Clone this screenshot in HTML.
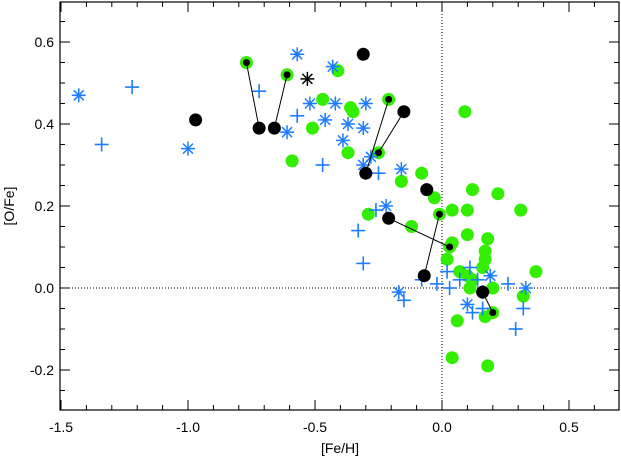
<!DOCTYPE html>
<html><head><meta charset="utf-8"><style>
html,body{margin:0;padding:0;background:#fff;}
svg{display:block;font-family:"Liberation Sans",Arial,sans-serif;}
</style></head><body>
<svg id="chart" width="621" height="458" viewBox="0 0 621 458" xmlns="http://www.w3.org/2000/svg"></svg>
<script>
const xTicks = [-1.5, -1.0, -0.5, 0.0, 0.5];
const xTickLabels = ["-1.5", "-1.0", "-0.5", "0.0", "0.5"];
const yTicks = [-0.2, 0.0, 0.2, 0.4, 0.6];
const yTickLabels = ["-0.2", "0.0", "0.2", "0.4", "0.6"];
const greenX = [-0.41,-0.47,-0.36,-0.35,-0.51,-0.37,-0.59,-0.29,-0.16,-0.08,-0.03,0.09,0.12,0.22,0.31,0.04,0.10,-0.12,0.10,0.18,0.04,0.17,0.17,0.02,0.16,0.07,0.37,0.10,0.12,0.11,0.20,0.32,0.17,0.06,0.04,0.18];
const greenY = [0.53,0.46,0.44,0.43,0.39,0.33,0.31,0.18,0.26,0.28,0.22,0.43,0.24,0.23,0.19,0.19,0.19,0.15,0.13,0.12,0.11,0.09,0.07,0.07,0.05,0.04,0.04,0.03,0.02,0.00,0.00,-0.02,-0.07,-0.08,-0.17,-0.19];
const ringX = [-0.77,-0.61,-0.21,-0.25,-0.01,0.03,0.20];
const ringY = [0.55,0.52,0.46,0.33,0.18,0.10,-0.06];
const blackX = [-0.97,-0.72,-0.66,-0.31,-0.15,-0.30,-0.06,-0.21,-0.07,0.16];
const blackY = [0.41,0.39,0.39,0.57,0.43,0.28,0.24,0.17,0.03,-0.01];
const linkRing = [0,1,2,3,4,5,6];
const linkBlack = [1,2,5,4,8,7,9];
const astX = [-1.43,-1.00,-0.57,-0.43,-0.52,-0.42,-0.30,-0.46,-0.37,-0.31,-0.61,-0.39,-0.31,-0.28,-0.16,-0.22,-0.17,0.19,0.33,0.10];
const astY = [0.47,0.34,0.57,0.54,0.45,0.45,0.45,0.41,0.40,0.39,0.38,0.36,0.30,0.32,0.29,0.20,-0.01,0.03,0.00,-0.04];
const plusX = [-1.22,-1.34,-0.72,-0.57,-0.47,-0.25,-0.26,-0.33,-0.31,-0.15,-0.08,-0.02,0.02,0.03,0.07,0.11,0.14,0.16,0.12,0.16,0.26,0.32,0.29];
const plusY = [0.49,0.35,0.48,0.42,0.30,0.28,0.19,0.14,0.06,-0.03,0.02,0.01,0.04,0.00,0.02,0.05,0.02,-0.01,-0.06,-0.05,0.01,-0.05,-0.10];
const blackAstX = [-0.53];
const blackAstY = [0.51];

const L=60,R=619,T=2,B=410;
const sx = v => 442 + v*254;
const sy = v => 288 - v*410;
const NS="http://www.w3.org/2000/svg";
const svg=document.getElementById('chart');
function mk(tag,attrs,parent){const e=document.createElementNS(NS,tag);for(const k in attrs)e.setAttribute(k,attrs[k]);(parent||svg).appendChild(e);return e;}

const zx=mk('line',{x1:sx(0),x2:sx(0),y1:T,y2:B,stroke:'#000','stroke-width':1,'stroke-dasharray':'1,2'});


const zy=mk('line',{x1:L,x2:R,y1:sy(0),y2:sy(0),stroke:'#000','stroke-width':1,'stroke-dasharray':'1,2'});



const ax=mk('g',{stroke:'#000','stroke-width':1});


for(let i=-15;i<=7;i++){const v=i/10;const x=sx(v);if(x<L||x>R)continue;const maj=(i%5===0);const len=maj?10:5;
mk('line',{x1:x,x2:x,y1:B,y2:B-len},ax);mk('line',{x1:x,x2:x,y1:T,y2:T+len},ax);}
for(let i=-6;i<=14;i++){const v=i*0.05;const y=sy(v);if(y<T||y>B)continue;const maj=(i%4===0);const len=maj?10:5;
mk('line',{x1:L,x2:L+len,y1:y,y2:y},ax);mk('line',{x1:R,x2:R-len,y1:y,y2:y},ax);}
const fr=mk('rect',{x:L,y:T,width:R-L,height:B-T,fill:'none',stroke:'#000','stroke-width':1.2});



xTicks.forEach((v,i)=>{const t=mk('text',{x:sx(v),y:432,'text-anchor':'middle','font-size':14});t.textContent=xTickLabels[i];

});
yTicks.forEach((v,i)=>{const t=mk('text',{x:54,y:sy(v)+5,'text-anchor':'end','font-size':14});t.textContent=yTickLabels[i];

});
const xt=mk('text',{x:340,y:453,'text-anchor':'middle','font-size':14});xt.textContent='[Fe/H]';


const yt=mk('text',{x:14,y:206,'text-anchor':'middle','font-size':14,transform:'rotate(-90 14 206)'});yt.textContent='[O/Fe]';



greenX.forEach((v,i)=>{const c=mk('circle',{cx:sx(v),cy:sy(greenY[i]),r:6.5,fill:'#33ee00'});

});
ringX.forEach((v,i)=>{const c=mk('circle',{cx:sx(v),cy:sy(ringY[i]),r:6.5,fill:'#33ee00'});

});
function star(x,y,col,name){const g=mk('g',{stroke:col,'stroke-width':1.5});


mk('line',{x1:x-7,x2:x+7,y1:y,y2:y},g);mk('line',{x1:x,x2:x,y1:y-7,y2:y+7},g);
mk('line',{x1:x-5,x2:x+5,y1:y-5,y2:y+5},g);mk('line',{x1:x-5,x2:x+5,y1:y+5,y2:y-5},g);}
astX.forEach((v,i)=>star(sx(v),sy(astY[i]),'#1a7cff','blue-asterisk'));
plusX.forEach((v,i)=>{const x=sx(v),y=sy(plusY[i]);const g=mk('g',{stroke:'#1a7cff','stroke-width':1.6});


mk('line',{x1:x-7,x2:x+7,y1:y,y2:y},g);mk('line',{x1:x,x2:x,y1:y-7,y2:y+7},g);});
linkRing.forEach((ri,i)=>{const bi=linkBlack[i];const l=mk('line',{x1:sx(ringX[ri]),y1:sy(ringY[ri]),x2:sx(blackX[bi]),y2:sy(blackY[bi]),stroke:'#000','stroke-width':1});

});
blackX.forEach((v,i)=>{const c=mk('circle',{cx:sx(v),cy:sy(blackY[i]),r:6.5,fill:'#000'});

});
ringX.forEach((v,i)=>{const c=mk('circle',{cx:sx(v),cy:sy(ringY[i]),r:3.5,fill:'#000'});

});
blackAstX.forEach((v,i)=>star(sx(v),sy(blackAstY[i]),'#000','black-asterisk'));
</script>
</body></html>
